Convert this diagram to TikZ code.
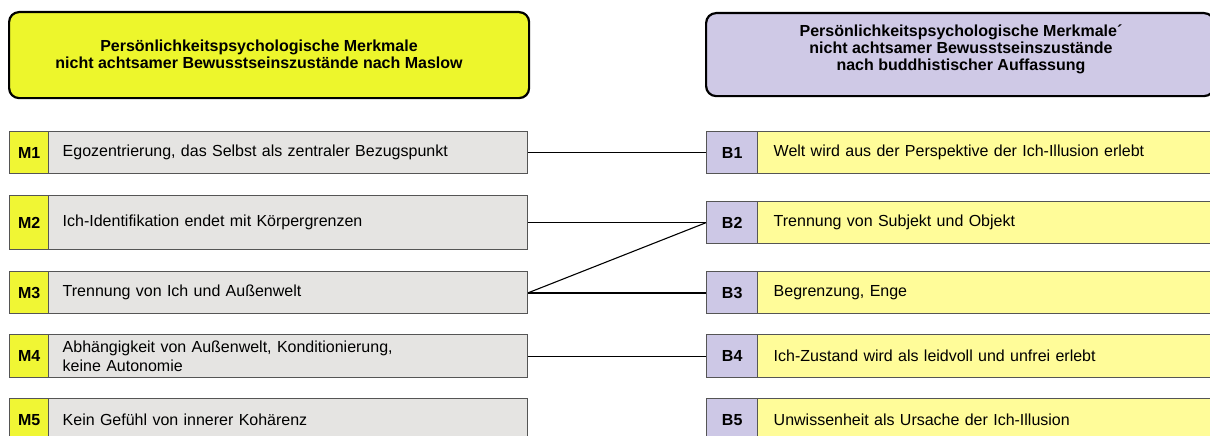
\documentclass[tikz,border=0pt]{standalone}
\usepackage{fontspec}
\setmainfont{Liberation Sans}
\definecolor{headyellow}{RGB}{237,246,44}
\definecolor{labyellow}{RGB}{240,246,52}
\definecolor{mgray}{RGB}{229,228,226}
\definecolor{headlilac}{RGB}{207,201,230}
\definecolor{lablilac}{RGB}{205,200,230}
\definecolor{byellow}{RGB}{255,252,153}
\definecolor{boxline}{RGB}{85,85,85}
\begin{document}
\begin{tikzpicture}[x=1pt,y=-1pt,
  txt/.style={font=\fontsize{16}{19.5}\selectfont},
  headbox/.style={draw=black, line width=2.2pt, rounded corners=10pt, anchor=north west, inner sep=0pt},
  headtext/.style={font=\bfseries\fontsize{16}{17}\selectfont, align=center, inner sep=0pt},
  rowbox/.style={draw=boxline, line width=1.4pt, anchor=north west, inner sep=0pt, minimum height=42pt},
  mlab/.style={rowbox, fill=labyellow, minimum width=39pt, font=\bfseries\fontsize{16}{18}\selectfont},
  mtxt/.style={rowbox, fill=mgray, txt, align=left, inner xsep=14pt, inner ysep=0pt, text width=451pt},
  blab/.style={rowbox, fill=lablilac, minimum width=51pt, font=\bfseries\fontsize{16}{18}\selectfont},
  btxt/.style={rowbox, fill=byellow, txt, align=left, inner xsep=16pt, inner ysep=0pt, text width=451pt},
  link/.style={draw=black, line width=1.1pt},
  boldlink/.style={draw=black, line width=2pt}
]
\useasboundingbox (0,0) rectangle (1210,436);
\clip (0,0) rectangle (1210,436);

% column headers
\node[headbox, fill=headyellow, minimum width=520pt, minimum height=86pt] (hl) at (8,11) {};
\node[headtext] (hlt) at (259,54) {Persönlichkeitspsychologische Merkmale\\nicht achtsamer Bewusstseinszustände nach Maslow};
\node[headbox, fill=headlilac, minimum width=508pt, minimum height=83pt] (hr) at (705,12) {};
\node[headtext] (hrt) at (961,49) {Persönlichkeitspsychologische Merkmale´\\nicht achtsamer Bewusstseinszustände\\nach buddhistischer Auffassung};

% left column: Maslow
\node[mlab] (m1l) at (9,131) {M1};
\node[mtxt] (m1) at (48,131) {Egozentrierung, das Selbst als zentraler Bezugspunkt};
\node[mlab, minimum height=54pt] (m2l) at (9,195) {M2};
\node[mtxt, minimum height=54pt] (m2) at (48,195) {Ich-Identifikation endet mit Körpergrenzen};
\node[mlab] (m3l) at (9,271) {M3};
\node[mtxt] (m3) at (48,271) {Trennung von Ich und Außenwelt};
\node[mlab, minimum height=43pt] (m4l) at (9,334) {M4};
\node[mtxt, minimum height=43pt] (m4) at (48,334) {Abhängigkeit von Außenwelt, Konditionierung,\\keine Autonomie};
\node[mlab] (m5l) at (9,398) {M5};
\node[mtxt] (m5) at (48,398) {Kein Gefühl von innerer Kohärenz};

% right column: buddhist view
\node[blab] (b1l) at (706,131) {B1};
\node[btxt] (b1) at (757,131) {Welt wird aus der Perspektive der Ich-Illusion erlebt};
\node[blab] (b2l) at (706,201) {B2};
\node[btxt] (b2) at (757,201) {Trennung von Subjekt und Objekt};
\node[blab] (b3l) at (706,271) {B3};
\node[btxt] (b3) at (757,271) {Begrenzung, Enge};
\node[blab, minimum height=43pt] (b4l) at (706,334) {B4};
\node[btxt, minimum height=43pt] (b4) at (757,334) {Ich-Zustand wird als leidvoll und unfrei erlebt};
\node[blab] (b5l) at (706,398) {B5};
\node[btxt] (b5) at (757,398) {Unwissenheit als Ursache der Ich-Illusion};

% correspondences
\draw[link] (m1.east) -- (b1l.west);
\draw[link] (m2.east) -- (b2l.west);
\draw[link] (m3.east) -- (b2l.west);
\draw[boldlink] (m3.east) -- (b3l.west);
\draw[link] (m4.east) -- (b4l.west);
\end{tikzpicture}
\end{document}
